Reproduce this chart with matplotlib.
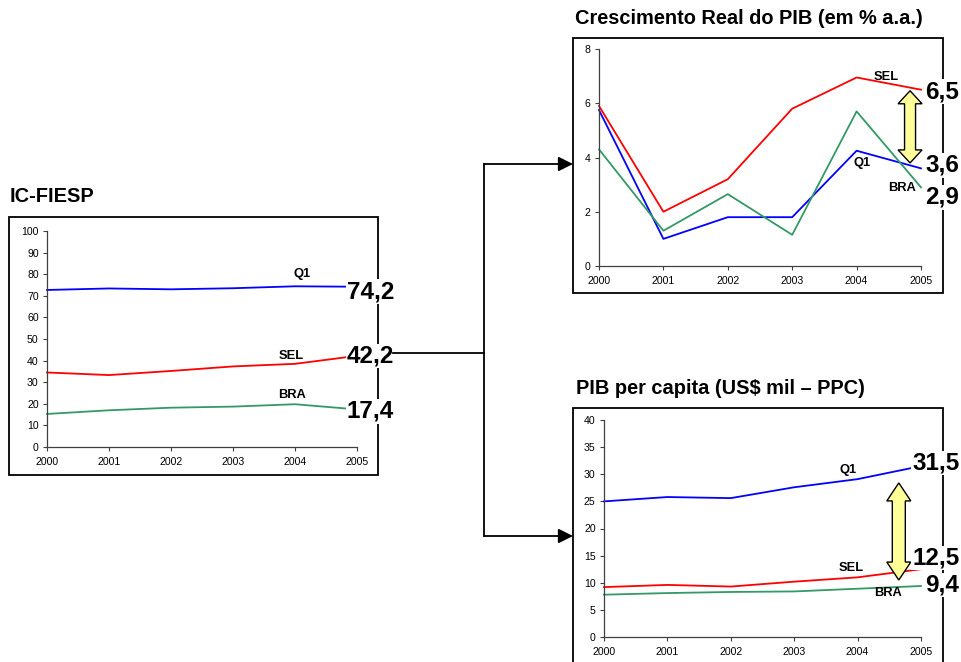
import matplotlib
matplotlib.use("Agg")
import numpy as np
import matplotlib.pyplot as plt
from matplotlib.patches import Rectangle, Polygon, FancyArrowPatch
from matplotlib.lines import Line2D
from matplotlib.transforms import IdentityTransform

plt.rcParams["font.family"] = ["Liberation Sans", "DejaVu Sans"]

years = [2000, 2001, 2002, 2003, 2004, 2005]

# IC-FIESP
ic_q1 = [72.7, 73.4, 73.0, 73.5, 74.4, 74.2]
ic_sel = [34.5, 33.3, 35.2, 37.3, 38.5, 42.2]
ic_bra = [15.3, 17.0, 18.2, 18.7, 19.8, 17.4]

# Crescimento real do PIB (% a.a.)
pib_sel = [5.9, 2.0, 3.2, 5.8, 6.95, 6.5]
pib_q1 = [5.75, 1.0, 1.8, 1.8, 4.25, 3.6]
pib_bra = [4.3, 1.3, 2.65, 1.15, 5.7, 2.9]

# PIB per capita (US$ mil - PPC)
pc_q1 = [25.0, 25.8, 25.6, 27.6, 29.1, 31.5]
pc_sel = [9.2, 9.6, 9.3, 10.2, 11.0, 12.5]
pc_bra = [7.8, 8.1, 8.3, 8.4, 8.9, 9.4]

COLORS = {"Q1": "#0000FF", "SEL": "#FF0000", "BRA": "#339966"}

W, H = 961, 662
fig = plt.figure(figsize=(W / 100, H / 100), dpi=100)


def px_rect(x0, y0, x1, y1):
    # pixel box (top-left origin) -> figure fraction
    return [x0 / W, 1 - y1 / H, (x1 - x0) / W, (y1 - y0) / H]


def px(x, y):
    return (x / W, 1 - y / H)


def frame(x0, y0, x1, y1):
    fig.add_artist(Rectangle(px(x0, y1), (x1 - x0) / W, (y1 - y0) / H,
                             transform=fig.transFigure, fill=False,
                             ec="black", lw=1.3, zorder=-1))


def setup(ax, ymax, ystep):
    ax.set_xlim(2000, 2005)
    ax.set_ylim(0, ymax)
    ax.set_xticks(years)
    ax.set_yticks(np.arange(0, ymax + ystep / 2, ystep))
    for s in ["top", "right"]:
        ax.spines[s].set_visible(False)
    for s in ["left", "bottom"]:
        ax.spines[s].set_color("#404040")
        ax.spines[s].set_linewidth(0.9)
    ax.tick_params(direction="out", length=3, width=0.8, color="#404040", labelsize=7.6)
    ax.tick_params(axis="x", pad=4)
    ax.tick_params(axis="y", pad=3)
    ax.patch.set_alpha(0)


def value_label(ax, y, text, dx, dy):
    ax.annotate(text, xy=(years[-1], y), xytext=(dx, dy), textcoords="offset pixels",
                ha="left", va="center", fontsize=17.5, fontweight="bold",
                bbox=dict(fc="white", ec="none", pad=0.6), annotation_clip=False, zorder=5)


def double_arrow(ax, x, ytop, ybot, hw, sw, hl):
    cx, top = ax.transData.transform((x, ytop))
    _, bot = ax.transData.transform((x, ybot))
    pts = [(cx, top), (cx + hw, top - hl), (cx + sw, top - hl), (cx + sw, bot + hl),
           (cx + hw, bot + hl), (cx, bot), (cx - hw, bot + hl), (cx - sw, bot + hl),
           (cx - sw, top - hl), (cx - hw, top - hl)]
    ax.add_patch(Polygon(pts, closed=True, transform=IdentityTransform(),
                         fc="#FFFF99", ec="black", lw=1.0, zorder=4, clip_on=False))


def series_label(ax, name, x, y):
    ax.text(x, y, name, ha="center", va="center", fontsize=9.3, fontweight="bold")


# ---- IC-FIESP ----
frame(9, 217, 378, 475)
ax1 = fig.add_axes(px_rect(47, 231, 357, 447))
setup(ax1, 100, 10)
for name, vals in [("Q1", ic_q1), ("SEL", ic_sel), ("BRA", ic_bra)]:
    ax1.plot(years, vals, color=COLORS[name], lw=1.3, clip_on=False)
for name, (x, y) in {"Q1": (2004.11, 80.1), "SEL": (2003.94, 42.1), "BRA": (2003.95, 24.0)}.items():
    series_label(ax1, name, x, y)
value_label(ax1, ic_q1[-1], "74,2", -10, -5)
value_label(ax1, ic_sel[-1], "42,2", -10, 0)
value_label(ax1, ic_bra[-1], "17,4", -10, -2)
fig.text(*px(10, 196), "IC-FIESP", ha="left", va="center", fontsize=14.4, fontweight="bold")

# ---- Crescimento Real do PIB ----
frame(573, 38, 943, 293)
ax2 = fig.add_axes(px_rect(599, 49, 921, 266))
setup(ax2, 8, 2)
for name, vals in [("SEL", pib_sel), ("Q1", pib_q1), ("BRA", pib_bra)]:
    ax2.plot(years, vals, color=COLORS[name], lw=1.3, clip_on=False)
for name, (x, y) in {"SEL": (2004.46, 6.97), "Q1": (2004.08, 3.8), "BRA": (2004.7, 2.87)}.items():
    series_label(ax2, name, x, y)
value_label(ax2, pib_sel[-1], "6,5", 4, -2)
value_label(ax2, pib_q1[-1], "3,6", 4, 3)
value_label(ax2, pib_bra[-1], "2,9", 4, -10)
double_arrow(ax2, 2004.83, 6.46, 3.8, 12, 5.5, 13)
fig.text(*px(575, 19), "Crescimento Real do PIB (em % a.a.)", ha="left", va="center",
         fontsize=14.4, fontweight="bold")

# ---- PIB per capita ----
frame(573, 408, 943, 700)
ax3 = fig.add_axes(px_rect(604, 420, 921, 637))
setup(ax3, 40, 5)
for name, vals in [("Q1", pc_q1), ("SEL", pc_sel), ("BRA", pc_bra)]:
    ax3.plot(years, vals, color=COLORS[name], lw=1.3, clip_on=False)
for name, (x, y) in {"Q1": (2003.85, 30.8), "SEL": (2003.9, 12.7), "BRA": (2004.48, 8.1)}.items():
    series_label(ax3, name, x, y)
value_label(ax3, pc_q1[-1], "31,5", -9, 3)
value_label(ax3, pc_sel[-1], "12,5", -9, 11)
value_label(ax3, pc_bra[-1], "9,4", 4, 1)
double_arrow(ax3, 2004.65, 28.4, 10.5, 12, 6.5, 18)
fig.text(*px(576, 388), "PIB per capita (US$ mil – PPC)", ha="left", va="center",
         fontsize=14.4, fontweight="bold")

# ---- connectors ----
fig.add_artist(Line2D([393 / W, 484 / W], [1 - 353 / H, 1 - 353 / H],
                      transform=fig.transFigure, color="black", lw=1.3))
fig.add_artist(Line2D([484 / W, 484 / W], [1 - 164 / H, 1 - 536 / H],
                      transform=fig.transFigure, color="black", lw=1.3))
for yy in (164, 536):
    fig.add_artist(FancyArrowPatch(px(484, yy), px(573, yy), transform=fig.transFigure,
                                   arrowstyle="-|>", mutation_scale=22, lw=1.3,
                                   color="black", shrinkA=0, shrinkB=0))

fig.savefig("out.png", dpi=100)
